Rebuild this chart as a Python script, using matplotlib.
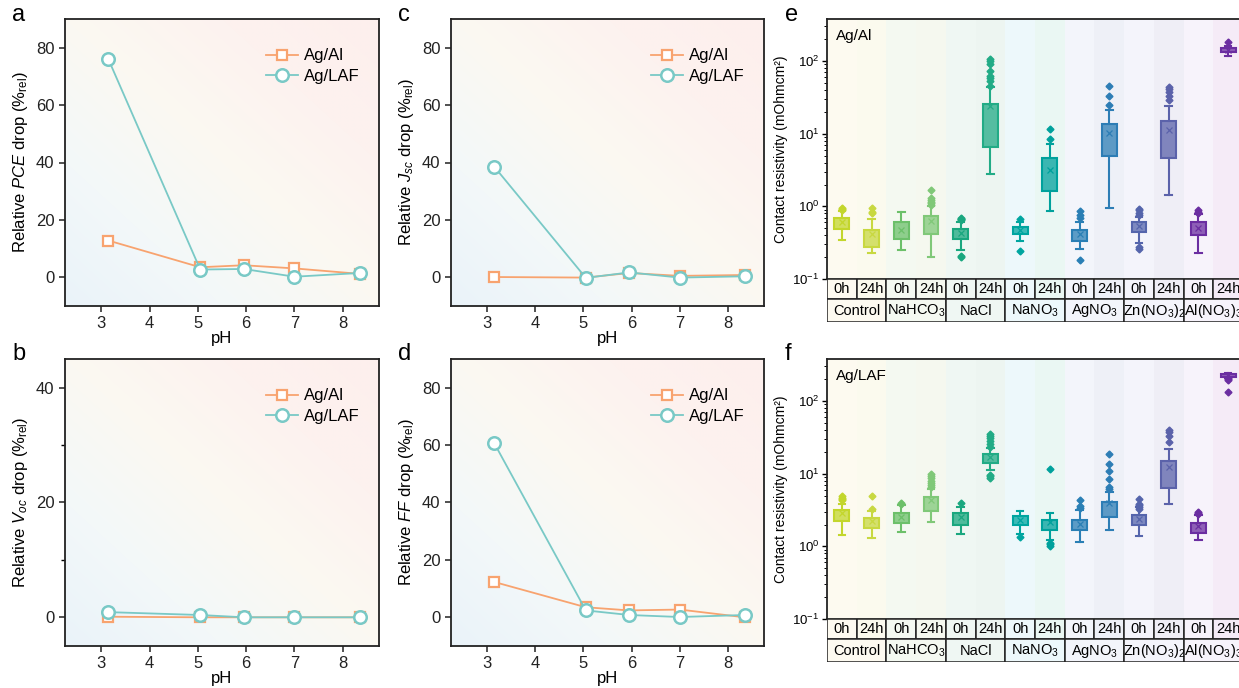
import numpy as np
import matplotlib
matplotlib.use('Agg')
import matplotlib.pyplot as plt
from matplotlib.colors import LinearSegmentedColormap, to_rgb
from matplotlib.patches import Rectangle
from matplotlib.ticker import MultipleLocator

plt.rcParams['font.family'] = ['Liberation Sans', 'DejaVu Sans']
plt.rcParams['mathtext.fontset'] = 'custom'
plt.rcParams['mathtext.rm'] = 'Liberation Sans'
plt.rcParams['mathtext.it'] = 'Liberation Sans:italic'
plt.rcParams['mathtext.bf'] = 'Liberation Sans:bold'

# ---- panels a-d: relative drop vs pH ----
ph = [3.15, 5.05, 5.95, 7.0, 8.35]
pce_al = [12.8, 3.5, 4.2, 3.1, 1.2]
pce_laf = [75.9, 2.7, 2.9, 0.2, 1.5]
voc_al = [0.1, 0.0, 0.0, 0.0, 0.0]
voc_laf = [0.9, 0.4, 0.0, 0.0, 0.0]
jsc_al = [0.1, -0.1, 1.5, 0.5, 0.8]
jsc_laf = [38.5, -0.2, 1.7, -0.1, 0.35]
ff_al = [12.3, 3.5, 2.4, 2.7, 0.0]
ff_laf = [60.6, 2.4, 0.8, 0.1, 0.8]

# ---- panels e-f: contact resistivity box stats ----
groups = ['Control', 'NaHCO$_3$', 'NaCl', 'NaNO$_3$', 'AgNO$_3$',
          'Zn(NO$_3$)$_2$', 'Al(NO$_3$)$_3$']
times = ['0h', '24h']

e_q1 = [0.49, 0.28, 0.36, 0.42, 0.355, 6.5, 0.42, 1.63, 0.33, 4.9, 0.44, 4.7, 0.40, 133]
e_med = [0.58, 0.38, 0.47, 0.56, 0.42, 12, 0.47, 2.8, 0.39, 8.5, 0.52, 8.8, 0.49, 142]
e_q3 = [0.69, 0.48, 0.61, 0.74, 0.49, 25.6, 0.525, 4.6, 0.47, 13.6, 0.61, 14.9, 0.61, 151]
e_lo = [0.34, 0.23, 0.25, 0.20, 0.25, 2.8, 0.33, 0.86, 0.26, 0.95, 0.31, 1.43, 0.23, 118]
e_hi = [0.86, 0.68, 0.84, 1.0, 0.61, 43.9, 0.61, 7.3, 0.61, 21, 0.71, 24, 0.79, 164]
e_mean = [0.60, 0.41, 0.48, 0.62, 0.43, 23.8, 0.48, 3.2, 0.41, 10.1, 0.53, 11.3, 0.50, 143]
e_fliers = [[0.90, 0.93, 0.95], [0.80, 0.83, 0.95], [],
            [1.05, 1.1, 1.15, 1.22, 1.3, 1.7], [0.64, 0.66, 0.68, 0.7, 0.2, 0.21],
            [45, 54, 58, 62, 74, 92, 100, 108], [0.68, 0.24], [8.5, 11.7],
            [0.7, 0.76, 0.86, 0.18], [24.5, 33.6, 46],
            [0.75, 0.82, 0.88, 0.93, 0.28, 0.26], [29, 33, 37, 41, 44],
            [0.8, 0.84, 0.88], [183]]

f_q1 = [2.25, 1.79, 2.1, 3.06, 1.99, 13.9, 1.94, 1.7, 1.66, 2.54, 1.99, 6.4, 1.54, 218]
f_med = [2.7, 2.1, 2.45, 3.9, 2.4, 16.5, 2.2, 2.0, 1.95, 3.3, 2.3, 10, 1.8, 228]
f_q3 = [3.2, 2.45, 2.9, 4.8, 2.9, 18.8, 2.59, 2.28, 2.33, 4.1, 2.7, 14.9, 2.12, 238]
f_lo = [1.42, 1.3, 1.57, 2.16, 1.46, 11.1, 1.49, 1.21, 1.15, 1.66, 1.37, 3.8, 1.24, 210]
f_hi = [3.86, 3.1, 3.7, 6.2, 3.5, 22.8, 3.06, 2.87, 3.2, 5.6, 3.5, 22, 2.67, 243]
f_mean = [2.87, 2.2, 2.5, 4.3, 2.5, 16.9, 2.28, 2.16, 2.05, 3.9, 2.4, 12.3, 1.88, 232]
f_fliers = [[4.3, 4.5, 4.7, 5.0], [3.3, 4.9], [3.86, 3.95],
            [6.5, 7.0, 7.5, 8.0, 8.7, 9.4, 10.0], [3.95],
            [23.5, 26, 28, 31, 33, 35, 8.6, 9.2, 9.6], [1.34], [11.7, 1.02, 1.08, 1.12],
            [3.4, 3.6, 4.3], [6.2, 6.5, 8.5, 10.9, 13.7, 18.8],
            [3.3, 3.5, 3.7, 3.86, 4.5], [27, 33, 37, 40],
            [2.8, 2.9, 3.0], [195, 200, 205, 135]]

# styles
ORANGE = '#f8a36f'
TEAL = '#79c9c6'
box_colors = ['#c3d62c', '#c8d840', '#6cc06a', '#80c878', '#1aa77f', '#22ab86',
              '#00a5a0', '#00a19c', '#2a7fb5', '#2d7db5', '#5565ac', '#5b62aa',
              '#6b2ea1', '#6b2ea1']
bg_cols = ['#fdfaf0', '#fbfaee', '#f4f9f1', '#f5f8ef', '#eff7f3', '#edf5f1',
           '#edf8fb', '#eaf7f3', '#f3f5fb', '#eef0f7', '#f4f4fb', '#efeef6',
           '#f7f3fb', '#f5ebf7']

W, H = 1239, 688
fig = plt.figure(figsize=(W / 100, H / 100), dpi=100)

bg_cmap = LinearSegmentedColormap.from_list(
    'bg', ['#eaf3fa', '#f3f8f9', '#fbf9f2', '#fdf2ef', '#fdefed'])
gx, gy = np.meshgrid(np.linspace(0, 1, 300), np.linspace(0, 1, 300))
grad = (gx + gy) / 2


def px_axes(left, top, right, bottom):
    return fig.add_axes([left / W, 1 - bottom / H, (right - left) / W, (bottom - top) / H])


def line_panel(ax, al, laf, ylabel, ylim, yticks, minor=None):
    ax.imshow(grad, extent=[0, 1, 0, 1], transform=ax.transAxes, origin='lower',
              cmap=bg_cmap, aspect='auto', zorder=0, interpolation='bilinear')
    ax.plot(ph, al, '-s', color=ORANGE, lw=1.3, ms=7.5, mfc='white', mew=1.6,
            label='Ag/Al', zorder=3)
    ax.plot(ph, laf, '-o', color=TEAL, lw=1.3, ms=9, mfc='white', mew=1.8,
            label='Ag/LAF', zorder=4)
    ax.set_xlim(2.25, 8.75)
    ax.set_ylim(*ylim)
    ax.set_xticks([3, 4, 5, 6, 7, 8])
    ax.set_yticks(yticks)
    if minor:
        ax.yaxis.set_minor_locator(MultipleLocator(minor))
        ax.tick_params(axis='y', which='minor', length=3, width=1)
    ax.tick_params(axis='both', which='major', labelsize=12, length=4.5, width=1.1,
                   colors='#222222', pad=3)
    for sp in ax.spines.values():
        sp.set_linewidth(1.3)
        sp.set_color('#222222')
    ax.set_xlabel('pH', fontsize=12, labelpad=0)
    ax.set_ylabel(ylabel, fontsize=12, labelpad=4)
    ax.legend(loc='upper right', frameon=False, fontsize=12, handlelength=1.9,
              handletextpad=0.35, bbox_to_anchor=(0.985, 0.95), labelspacing=0.35)


ax_a = px_axes(65, 19, 379, 306)
line_panel(ax_a, pce_al, pce_laf, r'Relative $PCE$ drop (%$_{\rm rel}$)', (-10, 90),
           [0, 20, 40, 60, 80])
ax_c = px_axes(451, 19, 764, 306)
line_panel(ax_c, jsc_al, jsc_laf, r'Relative $J_{sc}$ drop (%$_{\rm rel}$)', (-10, 90),
           [0, 20, 40, 60, 80])
ax_b = px_axes(65, 359, 379, 646)
line_panel(ax_b, voc_al, voc_laf, r'Relative $V_{oc}$ drop (%$_{\rm rel}$)', (-5, 45),
           [0, 20, 40], minor=10)
ax_d = px_axes(451, 359, 764, 646)
line_panel(ax_d, ff_al, ff_laf, r'Relative $FF$ drop (%$_{\rm rel}$)', (-10, 90),
           [0, 20, 40, 60, 80])


def box_panel(top, q1, med, q3, lo, hi, mean, fliers, title):
    plot_bottom = top + 260
    ax = px_axes(827, top, 1243, plot_bottom)
    n = len(q1)
    for i in range(n):
        ax.axvspan(i - 0.5, i + 0.5, color=bg_cols[i], lw=0, zorder=0)
    stats = []
    for i in range(n):
        stats.append(dict(q1=q1[i], med=med[i], q3=q3[i], whislo=lo[i],
                          whishi=hi[i], mean=mean[i], fliers=fliers[i]))
    for i in range(n):
        c = box_colors[i]
        ax.bxp([stats[i]], positions=[i], widths=0.5, patch_artist=True,
               showmeans=True, showfliers=True, capwidths=0.22,
               boxprops=dict(facecolor=(*to_rgb(c), 0.75), edgecolor=c, lw=1.5),
               whiskerprops=dict(color=c, lw=1.5),
               capprops=dict(color=c, lw=1.5),
               medianprops=dict(lw=0),
               meanprops=dict(marker='x', markeredgecolor=c, markersize=5, mew=0.9),
               flierprops=dict(marker='D', markerfacecolor=c, markeredgecolor=c,
                               markersize=3.5))
    ax.set_yscale('log')
    ax.set_ylim(0.1, 380)
    ax.set_xlim(-0.5, n - 0.5)
    ax.set_xticks([])
    ax.tick_params(axis='y', which='major', labelsize=9.5, length=3.5, width=1, pad=2)
    ax.tick_params(axis='y', which='minor', length=2, width=0.7)
    for sp in ax.spines.values():
        sp.set_linewidth(1.3)
        sp.set_color('#222222')
    ax.set_ylabel('Contact resistivity (mOhmcm²)', fontsize=10, labelpad=3)
    ax.text(0.022, 0.96, title, transform=ax.transAxes, fontsize=11, va='top', ha='left')

    # category table below
    at = px_axes(827, plot_bottom, 1243, plot_bottom + 43)
    at.set_xlim(-0.5, n - 0.5)
    at.set_ylim(0, 43)
    at.axis('off')
    for i in range(n):
        at.add_patch(Rectangle((i - 0.5, 23), 1, 20, facecolor=bg_cols[i],
                               edgecolor='#222222', lw=1.1))
        at.text(i, 33, times[i % 2], ha='center', va='center', fontsize=10.5)
    for g, name in enumerate(groups):
        at.add_patch(Rectangle((2 * g - 0.5, 0), 2, 23, facecolor=bg_cols[2 * g],
                               edgecolor='#222222', lw=1.1))
        at.text(2 * g + 0.5, 11, name, ha='center', va='center', fontsize=10.5)
    return ax


ax_e = box_panel(19, e_q1, e_med, e_q3, e_lo, e_hi, e_mean, e_fliers, 'Ag/Al')
ax_f = box_panel(359, f_q1, f_med, f_q3, f_lo, f_hi, f_mean, f_fliers, 'Ag/LAF')

for lab, x, y in [('a', 12, 4), ('c', 398, 4), ('e', 785, 4),
                  ('b', 12, 343), ('d', 398, 343), ('f', 785, 343)]:
    fig.text(x / W, 1 - y / H, lab, fontsize=17, va='top', ha='left')

fig.savefig('out.png', dpi=100)
